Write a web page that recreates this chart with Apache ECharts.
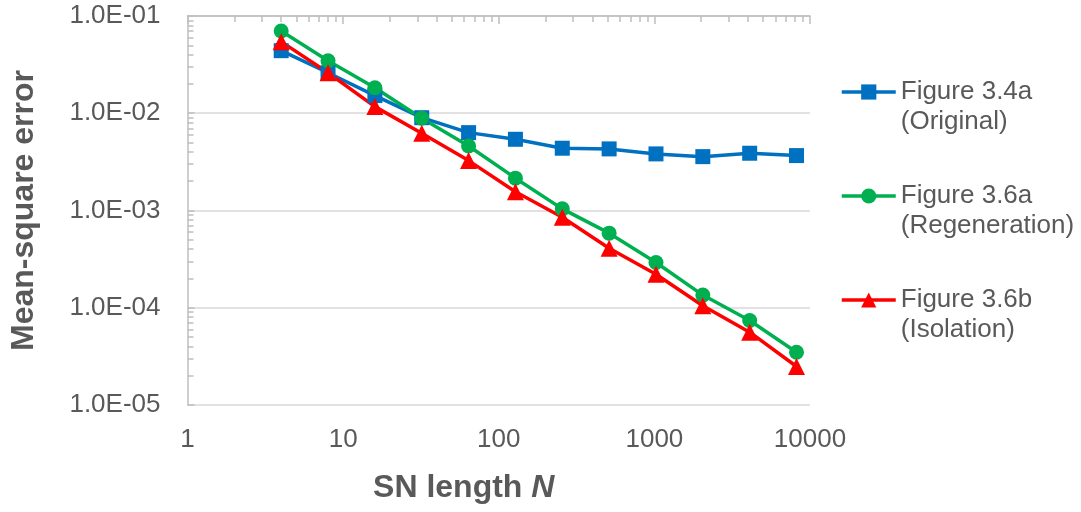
<!DOCTYPE html>
<html>
<head>
<meta charset="utf-8">
<script src="https://cdn.jsdelivr.net/npm/echarts@6/dist/echarts.min.js"></script>
<style>
html, body { margin: 0; padding: 0; background: #fff; }
#chart { width: 1081px; height: 512px; }
</style>
</head>
<body>
<div id="chart"></div>
<script>
// SN length N (x) and mean-square error of each method
var snLength = [4, 8, 16, 32, 64, 128, 256, 512, 1024, 2048, 4096, 8192];
var originalMse = [0.0440, 0.0261, 0.0152, 0.0090, 0.00632, 0.00540, 0.00437, 0.00430, 0.00382, 0.00358, 0.00388, 0.00367];
var regenMse = [0.0701, 0.0347, 0.0183, 0.0089, 0.00461, 0.00215, 0.00104, 0.000585, 0.000292, 0.000135, 0.0000740, 0.0000349];
var isolationMse = [0.0545, 0.0261, 0.0117, 0.00622, 0.00326, 0.00156, 0.000853, 0.000409, 0.000221, 0.000105, 0.0000561, 0.0000249];
var seriesNames = ['Figure 3.4a\n(Original)', 'Figure 3.6a\n(Regeneration)', 'Figure 3.6b\n(Isolation)'];

function pairs(ys) {
	var out = [];
	for (var i = 0; i < snLength.length; i++) {
		out.push([snLength[i], ys[i]]);
	}
	return out;
}

var font = 'Liberation Sans, Arial, sans-serif';
var textGrey = '#595959';
var axisGrey = '#bfbfbf';

var myChart = echarts.init(document.getElementById('chart'));
var option = {
	animation: false,
	textStyle: { fontFamily: font },
	grid: {
		left: 187.5,
		right: 271,
		top: 16,
		bottom: 107,
		containLabel: false
	},
	legend: {
		orient: 'vertical',
		left: 840,
		top: 47,
		padding: 0,
		itemWidth: 54,
		itemHeight: 19,
		itemGap: 14,
		data: seriesNames,
		lineStyle: { width: 3.5 },
		// blank first line so the icon sits level with the first text line
		formatter: function (name) {
			return ' \n' + name;
		},
		textStyle: {
			color: textGrey,
			fontSize: 26,
			lineHeight: 30,
			fontFamily: font
		}
	},
	xAxis: [
		{
			type: 'log',
			logBase: 10,
			min: 1,
			max: 10000,
			position: 'bottom',
			axisLine: { show: false },
			axisTick: { show: false },
			splitLine: { show: false },
			axisLabel: {
				color: textGrey,
				fontSize: 26,
				margin: 22,
				fontFamily: font,
				formatter: function (v) {
					return String(v);
				}
			},
			name: 'SN length {i|N}',
			nameLocation: 'middle',
			nameGap: 67,
			nameTextStyle: {
				color: textGrey,
				fontSize: 32,
				fontWeight: 'bold',
				fontFamily: font,
				padding: [0, 70, 0, 0],
				rich: {
					i: { fontSize: 32, fontWeight: 'bold', fontStyle: 'italic', color: textGrey, fontFamily: font }
				}
			}
		},
		{
			type: 'log',
			logBase: 10,
			min: 1,
			max: 10000,
			position: 'top',
			axisLine: { show: true, lineStyle: { color: axisGrey, width: 1.5 } },
			axisTick: { show: true, inside: true, length: 8, lineStyle: { color: axisGrey, width: 1.5 } },
			minorTick: { show: true, splitNumber: 9, length: 6, lineStyle: { color: axisGrey, width: 1.5 } },
			axisLabel: { show: false },
			splitLine: { show: false }
		}
	],
	yAxis: {
		type: 'log',
		logBase: 10,
		min: 0.00001,
		max: 0.1,
		axisLine: { show: true, lineStyle: { color: axisGrey, width: 1.5 } },
		axisTick: { show: true, inside: true, length: 7, lineStyle: { color: axisGrey, width: 1.5 } },
		minorTick: { show: true, splitNumber: 9, length: 6, lineStyle: { color: axisGrey, width: 1.5 } },
		splitLine: { show: true, lineStyle: { color: '#d9d9d9', width: 1.5 } },
		axisLabel: {
			color: textGrey,
			fontSize: 26,
			margin: 27,
			fontFamily: font,
			formatter: function (v) {
				return v.toExponential(1).toUpperCase().replace(/E([+-])(\d)$/, 'E$10$2');
			}
		},
		name: 'Mean-square error',
		nameLocation: 'middle',
		nameGap: 147,
		nameTextStyle: {
			color: textGrey,
			fontSize: 32,
			fontWeight: 'bold',
			fontFamily: font
		}
	},
	series: [
		{
			name: seriesNames[0],
			type: 'line',
			xAxisIndex: 0,
			data: pairs(originalMse),
			symbol: 'rect',
			symbolSize: 15,
			color: '#0070c0',
			lineStyle: { width: 3.5, color: '#0070c0' },
			itemStyle: { color: '#0070c0' }
		},
		{
			name: seriesNames[1],
			type: 'line',
			xAxisIndex: 0,
			data: pairs(regenMse),
			symbol: 'circle',
			symbolSize: 15,
			color: '#00b050',
			lineStyle: { width: 3.5, color: '#00b050' },
			itemStyle: { color: '#00b050' }
		},
		{
			name: seriesNames[2],
			type: 'line',
			xAxisIndex: 0,
			data: pairs(isolationMse),
			symbol: 'triangle',
			symbolSize: 17,
			color: '#ff0000',
			lineStyle: { width: 3.5, color: '#ff0000' },
			itemStyle: { color: '#ff0000' }
		}
	]
};
myChart.setOption(option, true);
window.onresize = function() {
	myChart.resize();
};
</script>
</body>
</html>
